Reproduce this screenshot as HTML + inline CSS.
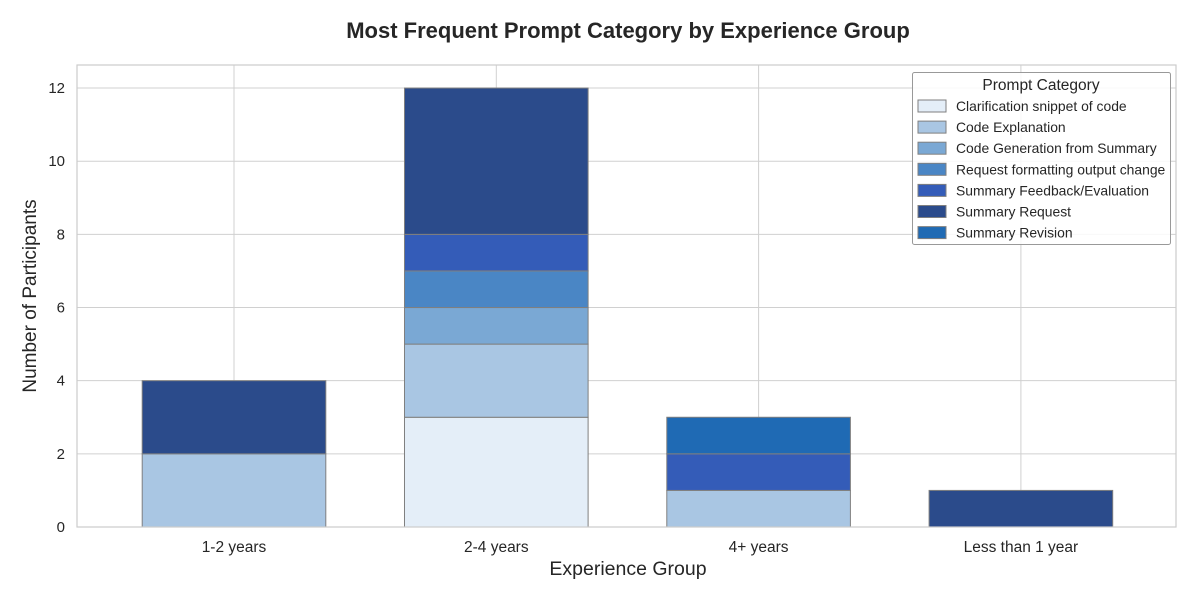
<!DOCTYPE html>
<html><head><meta charset="utf-8"><style>
body{margin:0;background:#fff;font-family:"Liberation Sans",Arial,sans-serif}
</style></head><body>
<svg id="chart" width="1200" height="600" xmlns="http://www.w3.org/2000/svg" font-family="Liberation Sans, Arial, sans-serif">
<rect width="1200" height="600" fill="#fff"/>
<text x="628" y="38" text-anchor="middle" font-size="22" font-weight="bold" fill="#262626">Most Frequent Prompt Category by Experience Group</text>
<g id="grid"></g><g id="bars"></g><g id="axes"></g><g id="legend"></g>
<text x="628" y="575" text-anchor="middle" font-size="19.5" fill="#262626">Experience Group</text>
<text transform="translate(36,296) rotate(-90)" text-anchor="middle" font-size="19" fill="#262626">Number of Participants</text>
</svg>
<script>
const categories = ["1-2 years","2-4 years","4+ years","Less than 1 year"];
const seriesNames = ["Clarification snippet of code","Code Explanation","Code Generation from Summary","Request formatting output change","Summary Feedback/Evaluation","Summary Request","Summary Revision"];
const clarification = [0,3,0,0];
const codeExplanation = [2,2,1,0];
const codeGeneration = [0,1,0,0];
const requestFormatting = [0,1,0,0];
const feedbackEval = [0,1,1,0];
const summaryRequest = [2,4,0,1];
const summaryRevision = [0,0,1,0];
const yTicks = [0,2,4,6,8,10,12];
const series = [clarification,codeExplanation,codeGeneration,requestFormatting,feedbackEval,summaryRequest,summaryRevision];
const colors = ["#e4eef8","#a9c6e3","#7aa8d4","#4a86c5","#345cb8","#2b4b8b","#1f6ab4"];
const NS="http://www.w3.org/2000/svg";
const L=77,R=1176,T=65,B=527;
const yMax=12.63;
const y=v=>B-(v/yMax)*(B-T);
const step=262.3;
const x=i=>234+i*step;
const bw=0.7*step;
function mk(tag,attrs,parent){const e=document.createElementNS(NS,tag);for(const k in attrs)e.setAttribute(k,attrs[k]);parent.appendChild(e);return e;}
const grid=document.getElementById('grid'),bars=document.getElementById('bars'),axes=document.getElementById('axes'),leg=document.getElementById('legend');
yTicks.forEach(t=>{
 const l=mk('line',{x1:L,x2:R,y1:y(t),y2:y(t),stroke:'#d0d0d0','stroke-width':1},grid);
 
 
 const tx=mk('text',{x:L-12,y:y(t)+5,'text-anchor':'end','font-size':15,fill:'#262626'},axes);
 tx.textContent=t;
 
 
});
categories.forEach((c,i)=>{
 const l=mk('line',{x1:x(i),x2:x(i),y1:T,y2:B,stroke:'#d0d0d0','stroke-width':1},grid);
 
 
 const tx=mk('text',{x:x(i),y:B+25,'text-anchor':'middle','font-size':15.5,fill:'#262626'},axes);
 tx.textContent=c;
 
 
 let base=0;
 series.forEach((s,j)=>{
  const v=s[i]; if(!v)return;
  const r=mk('rect',{x:x(i)-bw/2,y:y(base+v),width:bw,height:y(base)-y(base+v),fill:colors[j],stroke:'#7f7f7f','stroke-width':1},bars);
  
  
  base+=v;
 });
});
const fr=mk('rect',{x:L,y:T,width:R-L,height:B-T,fill:'none',stroke:'#cccccc','stroke-width':1.2},axes);


const lb=mk('rect',{x:912.5,y:72.5,width:258,height:172,rx:2,fill:'#fff','fill-opacity':0.85,stroke:'#999','stroke-width':1},leg);


const lt=mk('text',{x:1041,y:90,'text-anchor':'middle','font-size':15.5,fill:'#262626'},leg);
lt.textContent='Prompt Category';


seriesNames.forEach((n,j)=>{
 const yy=106+j*21.1;
 const sw=mk('rect',{x:918,y:yy-6,width:28,height:12,fill:colors[j],stroke:'#7f7f7f','stroke-width':1},leg);
 
 
 const t=mk('text',{x:956,y:yy+5,'font-size':13.9,fill:'#262626'},leg);
 t.textContent=n;
 
 
});
</script>
</body></html>
